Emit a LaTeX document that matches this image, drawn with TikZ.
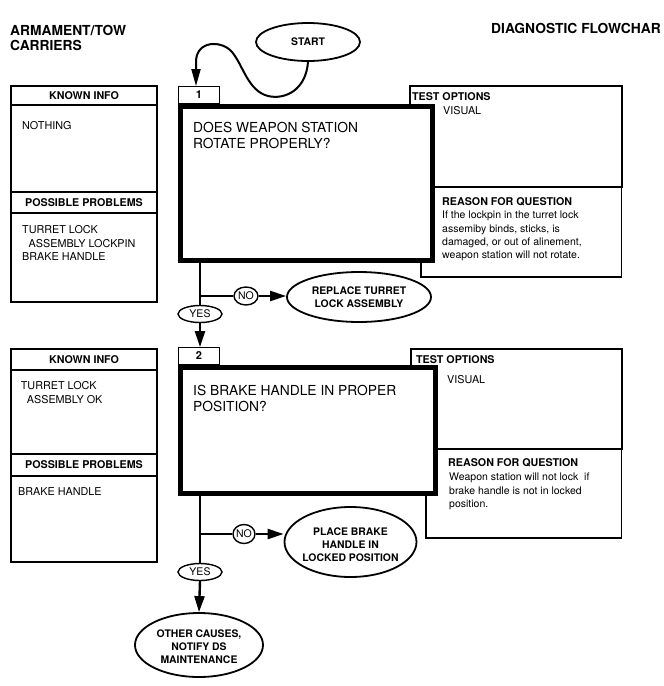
\documentclass[tikz,border=0pt]{standalone}
\usepackage{fontspec}
\setmainfont{TeX Gyre Heros}
\usetikzlibrary{shapes.geometric,arrows.meta}
\begin{document}
\begin{tikzpicture}[x=1pt,y=-1pt,
  thinbox/.style={draw, line width=1.3pt},
  testbox/.style={draw, line width=1.8pt},
  qbox/.style={draw, rectangle, line width=5pt, fill=white, inner sep=0pt},
  numbox/.style={draw, rectangle, line width=1.4pt, fill=white, inner sep=0pt,
    minimum width=40.5pt, minimum height=16.5pt, font=\fontsize{11}{12}\selectfont\bfseries},
  conn/.style={line width=2.4pt},
  arr/.style={-{Triangle[length=16pt,width=10pt]}},
  oval/.style={draw, ellipse, line width=1.8pt, inner sep=0pt, fill=white},
  small/.style={draw, ellipse, line width=1.4pt, inner sep=0pt, fill=white},
  lab/.style={font=\fontsize{10.4}{12.9}\selectfont\bfseries, align=center, inner sep=0pt},
  yn/.style={font=\fontsize{10.5}{12}\selectfont, inner sep=0pt},
  hd/.style={font=\fontsize{10.7}{13}\selectfont\bfseries, inner sep=0pt},
  body/.style={font=\fontsize{10.8}{13.3}\selectfont, inner sep=0pt, align=left, anchor=north west},
  reason/.style={font=\fontsize{10.5}{13.3}\selectfont, inner sep=0pt, align=left, anchor=north west},
  quest/.style={font=\fontsize{13.8}{16}\selectfont, inner sep=0pt, align=left, anchor=north west},
  title/.style={font=\fontsize{13.8}{15}\selectfont\bfseries, inner sep=0pt, align=left, anchor=north west}
]
\useasboundingbox (0,0) rectangle (664,686);
\fill[white] (0,0) rectangle (664,686);

% titles
\node[title] (t1) at (10,25) {ARMAMENT/TOW\\CARRIERS};
\node[title] (t2) at (491,23.5) {DIAGNOSTIC FLOWCHAR};

% ---------- section 1 ----------
\draw[thinbox] (11,86) rectangle (157,302);
\draw[thinbox] (11,105) -- (157,105);
\draw[thinbox] (11,192) -- (157,192);
\draw[thinbox] (11,213) -- (157,213);
\node[hd] (ki1h) at (84,96) {KNOWN INFO};
\node[body] (ki1t) at (22,121) {NOTHING};
\node[hd] (pp1h) at (84,202.5) {POSSIBLE PROBLEMS};
\node[body] (pp1t) at (22,225.7) {TURRET LOCK\\\hspace*{6.5pt}ASSEMBLY LOCKPIN\\BRAKE HANDLE};

\draw[testbox] (410,86) rectangle (622,187);
\draw[thinbox] (421,187) -- (421,277) -- (621.5,277) -- (621.5,187);
\node[hd, anchor=north west] (to1h) at (412,92) {TEST OPTIONS};
\node[body] (to1t) at (443,106) {VISUAL};
\node[hd, anchor=north west] (rq1h) at (442,197) {REASON FOR QUESTION};
\node[reason] (rq1t) at (442,211) {If the lockpin in the turret lock\\assemiby binds, sticks, is\\damaged, or out of alinement,\\weapon station will not rotate.};

\node[qbox, minimum width=252pt, minimum height=154pt] (q1) at (306.5,183.5) {};
\node[quest] (q1t) at (193,121.7) {DOES WEAPON STATION\\ROTATE PROPERLY?};
\node[numbox] (n1) at (199,95) {1};

\node[oval, minimum width=104pt, minimum height=38pt] (start) at (308,42) {};
\node[lab] (startt) at (start.center) {START};
\coordinate (sa) at (196,62);
\draw[line width=2pt, -{Triangle[length=17pt,width=9pt]}] (start.south)
  .. controls (306,90) and (285,100) .. (268,96)
  .. controls (248,91) and (243,65) .. (232,52)
  .. controls (222,40) and (196,40) .. (sa) -- ([xshift=-3pt]n1.north);

\node[small, minimum width=24pt, minimum height=18pt] (no1) at (246,296) {};
\node[yn] (no1t) at (no1.center) {NO};
\node[small, minimum width=44pt, minimum height=17pt] (yes1) at (200,314) {};
\node[yn] (yes1t) at (yes1.center) {YES};
\node[oval, minimum width=144pt, minimum height=50pt] (rep) at (359,297) {};
\node[lab] (rept) at (rep.center) {REPLACE TURRET\\LOCK ASSEMBLY};

\draw[conn] (q1.south -| yes1.north) -- (yes1.north);
\draw[conn] (no1 -| yes1) -- (no1.west);
\draw[conn, arr] (no1.east) -- (no1 -| rep.west);

% ---------- section 2 ----------
\draw[thinbox] (11,349) rectangle (157,562);
\draw[thinbox] (11,370) -- (157,370);
\draw[thinbox] (11,454) -- (157,454);
\draw[thinbox] (11,476) -- (157,476);
\node[hd] (ki2h) at (84,359.5) {KNOWN INFO};
\node[body] (ki2t) at (20.7,381.7) {TURRET LOCK\\\hspace*{6pt}ASSEMBLY OK};
\node[hd] (pp2h) at (84,465) {POSSIBLE PROBLEMS};
\node[body] (pp2t) at (18,487) {BRAKE HANDLE};

\draw[testbox] (411,349) rectangle (622,449);
\draw[thinbox] (426,449) -- (426,538) -- (621.5,538) -- (621.5,449);
\node[hd, anchor=north west] (to2h) at (416,355.7) {TEST OPTIONS};
\node[body] (to2t) at (447,375) {VISUAL};
\node[hd, anchor=north west] (rq2h) at (448,458) {REASON FOR QUESTION};
\node[reason] (rq2t) at (449,473) {Weapon station will not lock\ \ if\\brake handle is not in locked\\position.};

\node[qbox, minimum width=255pt, minimum height=126pt] (q2) at (308,430.5) {};
\node[quest] (q2t) at (193,385) {IS BRAKE HANDLE IN PROPER\\POSITION?};
\node[numbox] (n2) at (199,356) {2};

\draw[conn, arr] (yes1.south) -- (yes1.south |- n2.north);

\node[small, minimum width=22pt, minimum height=19pt] (no2) at (244,534) {};
\node[yn] (no2t) at (no2.center) {NO};
\node[small, minimum width=44pt, minimum height=17pt] (yes2) at (200,572) {};
\node[yn] (yes2t) at (yes2.center) {YES};
\node[oval, minimum width=132pt, minimum height=70pt] (place) at (350.5,542) {};
\node[lab] (placet) at (350.5,544.5) {PLACE BRAKE\\HANDLE IN\\LOCKED POSITION};
\node[oval, minimum width=128pt, minimum height=64pt] (other) at (199,645) {};
\node[lab] (othert) at (199,647) {OTHER CAUSES,\\NOTIFY DS\\MAINTENANCE};

\draw[conn] (q2.south -| yes2.north) -- (yes2.north);
\draw[conn] (no2 -| yes2) -- (no2.west);
\draw[conn, arr] (no2.east) -- (no2 -| place.west);
\draw[conn, arr] (yes2.south) -- (other.north);
\end{tikzpicture}
\end{document}
